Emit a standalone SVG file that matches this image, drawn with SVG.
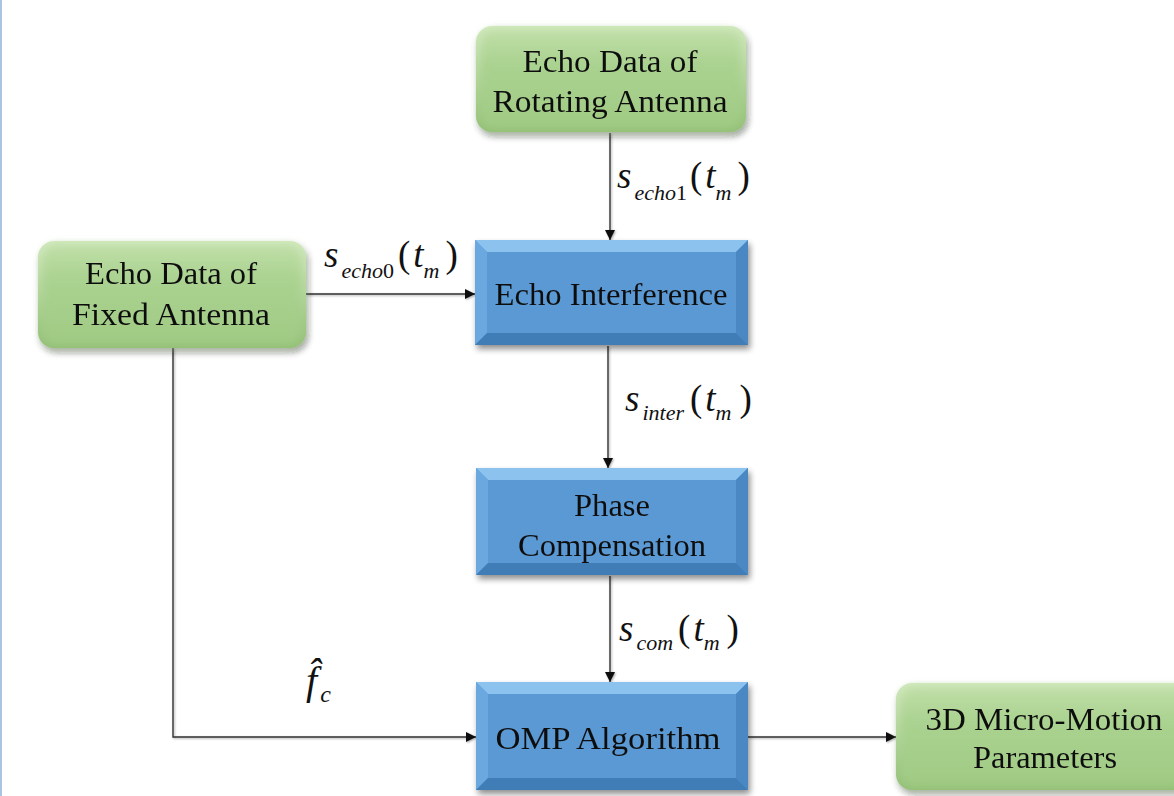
<svg xmlns="http://www.w3.org/2000/svg" width="1174" height="796" viewBox="0 0 1174 796">
  <defs>
    <filter id="shadow" x="-10%" y="-10%" width="125%" height="130%">
      <feGaussianBlur in="SourceAlpha" stdDeviation="3"/>
      <feOffset dx="2" dy="4" result="b"/>
      <feComponentTransfer><feFuncA type="linear" slope="0.45"/></feComponentTransfer>
      <feMerge><feMergeNode/><feMergeNode in="SourceGraphic"/></feMerge>
    </filter>
    <filter id="soft" x="-10%" y="-10%" width="120%" height="120%">
      <feGaussianBlur stdDeviation="4"/>
    </filter>
    <filter id="lineShadow" x="-5%" y="-5%" width="110%" height="110%">
      <feGaussianBlur in="SourceAlpha" stdDeviation="1"/>
      <feOffset dx="1" dy="1" result="b"/>
      <feComponentTransfer><feFuncA type="linear" slope="0.35"/></feComponentTransfer>
      <feMerge><feMergeNode/><feMergeNode in="SourceGraphic"/></feMerge>
    </filter>
    <linearGradient id="greenFill" x1="0" y1="0" x2="0" y2="1">
      <stop offset="0" stop-color="#c0dfa8"/>
      <stop offset="0.35" stop-color="#aad290"/>
      <stop offset="1" stop-color="#a0cb84"/>
    </linearGradient>
    <linearGradient id="greenEdge" x1="0" y1="0" x2="0" y2="1">
      <stop offset="0" stop-color="#d3eac0"/>
      <stop offset="1" stop-color="#92bf75"/>
    </linearGradient>
    <marker id="arrow" viewBox="0 0 10 10" refX="10" refY="5" markerWidth="10" markerHeight="10" markerUnits="userSpaceOnUse" orient="auto">
      <path d="M0,0 L10,5 L0,10 z" fill="#111"/>
    </marker>
    <style>
      text { font-family: "Liberation Serif", "Times New Roman", "DejaVu Serif Condensed", "DejaVu Serif", serif; fill: #111; }
      .label { font-size: 31px; text-anchor: middle; }
      .conn { fill: none; stroke: #333; stroke-width: 1.4; }
      .mi { font-style: italic; }
      .big { font-size: 37px; }
      .sub { font-size: 22px; }
      .bev-top { fill: #8cc3ee; }
      .bev-left { fill: #6aa8df; }
      .bev-right { fill: #4a88c3; }
      .bev-bot { fill: #3f7cb6; }
      .bev-face { fill: #5a99d3; }
    </style>
  </defs>

  <rect x="0" y="0" width="1174" height="796" fill="#ffffff"/>
  <rect x="0" y="0" width="2" height="796" fill="#a9c3e1"/>

  <!-- connectors -->
  <g id="connectors" filter="url(#lineShadow)">
    <line class="conn" x1="610" y1="133" x2="610" y2="240" marker-end="url(#arrow)"/>
    <line class="conn" x1="306" y1="294" x2="475" y2="294" marker-end="url(#arrow)"/>
    <line class="conn" x1="608" y1="346" x2="608" y2="468" marker-end="url(#arrow)"/>
    <line class="conn" x1="610" y1="576" x2="610" y2="682" marker-end="url(#arrow)"/>
    <polyline class="conn" points="173,348 173,737 476,737" marker-end="url(#arrow)"/>
    <line class="conn" x1="748" y1="737" x2="896" y2="737" marker-end="url(#arrow)"/>
  </g>

  <!-- signal labels -->
  <g id="signal-labels">
    <text x="617" y="188"><tspan class="mi big">s</tspan><tspan class="mi sub" dx="3" dy="12">echo<tspan font-style="normal">1</tspan></tspan><tspan class="big" dx="3" dy="-12">(</tspan><tspan class="mi big" dx="3">t</tspan><tspan class="mi sub" dy="12">m</tspan><tspan class="big" dx="6" dy="-12">)</tspan></text>
    <text x="324" y="267"><tspan class="mi big">s</tspan><tspan class="mi sub" dx="3" dy="11">echo<tspan font-style="normal">0</tspan></tspan><tspan class="big" dx="4" dy="-11">(</tspan><tspan class="mi big" dx="3">t</tspan><tspan class="mi sub" dy="11">m</tspan><tspan class="big" dx="6" dy="-11">)</tspan></text>
    <text x="625" y="411"><tspan class="mi big">s</tspan><tspan class="mi sub" dx="3" dy="9">inter</tspan><tspan class="big" dx="6" dy="-9">(</tspan><tspan class="mi big" dx="3">t</tspan><tspan class="mi sub" dy="9">m</tspan><tspan class="big" dx="8" dy="-9">)</tspan></text>
    <text x="619" y="641"><tspan class="mi big">s</tspan><tspan class="mi sub" dx="3" dy="9">com</tspan><tspan class="big" dx="5" dy="-9">(</tspan><tspan class="mi big" dx="3">t</tspan><tspan class="mi sub" dy="9">m</tspan><tspan class="big" dx="7" dy="-9">)</tspan></text>
    <text x="306" y="694"><tspan class="mi" font-size="40">f̂</tspan><tspan class="mi" font-size="24" dx="3" dy="8">c</tspan></text>
  </g>

  <!-- rotating antenna echo source -->
  <g id="node-rotating" filter="url(#shadow)">
    <rect x="476" y="26" width="270" height="106" rx="16" fill="url(#greenEdge)"/>
    <rect x="481" y="30" width="260" height="98" rx="13" fill="url(#greenFill)" filter="url(#soft)"/>
    <text class="label" x="610" y="72" textLength="175" lengthAdjust="spacingAndGlyphs">Echo Data of</text>
    <text class="label" x="610" y="112" textLength="235" lengthAdjust="spacingAndGlyphs">Rotating Antenna</text>
  </g>

  <!-- fixed antenna echo source -->
  <g id="node-fixed" filter="url(#shadow)">
    <rect x="38" y="241" width="268" height="107" rx="16" fill="url(#greenEdge)"/>
    <rect x="43" y="245" width="258" height="99" rx="13" fill="url(#greenFill)" filter="url(#soft)"/>
    <text class="label" x="171" y="284" textLength="172" lengthAdjust="spacingAndGlyphs">Echo Data of</text>
    <text class="label" x="171" y="325" textLength="198" lengthAdjust="spacingAndGlyphs">Fixed Antenna</text>
  </g>

  <!-- echo interference -->
  <g id="node-interference" filter="url(#shadow)">
    <rect class="bev-face" x="475" y="240" width="273" height="105"/>
    <polygon class="bev-top" points="475,240 748,240 736,252 487,252"/>
    <polygon class="bev-left" points="475,240 487,252 487,333 475,345"/>
    <polygon class="bev-right" points="748,240 748,345 736,333 736,252"/>
    <polygon class="bev-bot" points="475,345 487,333 736,333 748,345"/>
    <text class="label" x="611" y="305" textLength="233" lengthAdjust="spacingAndGlyphs">Echo Interference</text>
  </g>

  <!-- phase compensation -->
  <g id="node-phase" filter="url(#shadow)">
    <rect class="bev-face" x="476" y="468" width="272" height="107"/>
    <polygon class="bev-top" points="476,468 748,468 736,480 488,480"/>
    <polygon class="bev-left" points="476,468 488,480 488,563 476,575"/>
    <polygon class="bev-right" points="748,468 748,575 736,563 736,480"/>
    <polygon class="bev-bot" points="476,575 488,563 736,563 748,575"/>
    <text class="label" x="612" y="516" textLength="76" lengthAdjust="spacingAndGlyphs">Phase</text>
    <text class="label" x="612" y="556" textLength="188" lengthAdjust="spacingAndGlyphs">Compensation</text>
  </g>

  <!-- OMP algorithm -->
  <g id="node-omp" filter="url(#shadow)">
    <rect class="bev-face" x="476" y="682" width="272" height="108"/>
    <polygon class="bev-top" points="476,682 748,682 736,694 488,694"/>
    <polygon class="bev-left" points="476,682 488,694 488,778 476,790"/>
    <polygon class="bev-right" points="748,682 748,790 736,778 736,694"/>
    <polygon class="bev-bot" points="476,790 488,778 736,778 748,790"/>
    <text class="label" x="608" y="749" textLength="225" lengthAdjust="spacingAndGlyphs">OMP Algorithm</text>
  </g>

  <!-- micro-motion parameters output -->
  <g id="node-params" filter="url(#shadow)">
    <rect x="896" y="683" width="300" height="107" rx="16" fill="url(#greenEdge)"/>
    <rect x="901" y="687" width="290" height="99" rx="13" fill="url(#greenFill)" filter="url(#soft)"/>
    <text class="label" x="1044" y="730" textLength="237" lengthAdjust="spacingAndGlyphs">3D Micro-Motion</text>
    <text class="label" x="1045" y="768" textLength="144" lengthAdjust="spacingAndGlyphs">Parameters</text>
  </g>
</svg>
